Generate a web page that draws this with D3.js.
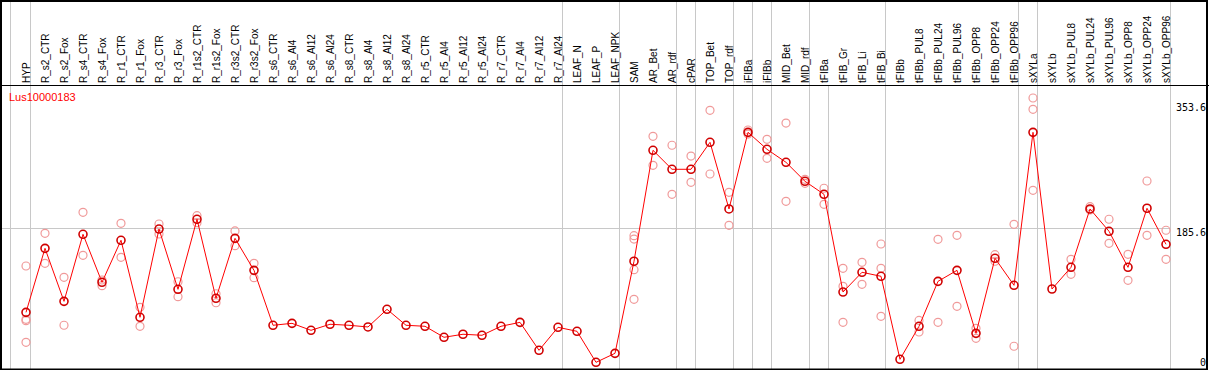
<!DOCTYPE html>
<html>
<head>
<meta charset="utf-8">
<script src="https://cdn.jsdelivr.net/npm/d3@7"></script>
<style>
  body { margin: 0; background: #fff; }
  svg { display: block; }
</style>
</head>
<body>
<svg id="chart" width="1209" height="370"></svg>
<script>
const gene = "Lus10000183";

const categories = [
  "HYP", "R_s2_CTR", "R_s2_Fox", "R_s4_CTR", "R_s4_Fox", "R_r1_CTR", "R_r1_Fox",
  "R_r3_CTR", "R_r3_Fox", "R_r1s2_CTR", "R_r1s2_Fox", "R_r3s2_CTR", "R_r3s2_Fox",
  "R_s6_CTR", "R_s6_Al4", "R_s6_Al12", "R_s6_Al24", "R_s8_CTR", "R_s8_Al4", "R_s8_Al12",
  "R_s8_Al24", "R_r5_CTR", "R_r5_Al4", "R_r5_Al12", "R_r5_Al24", "R_r7_CTR", "R_r7_Al4",
  "R_r7_Al12", "R_r7_Al24", "LEAF_N", "LEAF_P", "LEAF_NPK", "SAM", "AR_Bet", "AR_rdf",
  "cPAR", "TOP_Bet", "TOP_rdf", "iFIBa", "iFIBb", "MID_Bet", "MID_rdf", "tFIBa",
  "tFIB_Gr", "tFIB_Li", "tFIB_Bi", "tFIBb", "tFIBb_PUL8", "tFIBb_PUL24", "tFIBb_PUL96",
  "tFIBb_OPP8", "tFIBb_OPP24", "tFIBb_OPP96", "sXYLa", "sXYLb", "sXYLb_PUL8",
  "sXYLb_PUL24", "sXYLb_PUL96", "sXYLb_OPP8", "sXYLb_OPP24", "sXYLb_OPP96"
];

const means = [
  77.0, 159.6, 91.2, 177.7, 115.8, 170.0, 70.6,
  184.5, 106.7, 197.1, 95.1, 172.5, 131.2,
  60.3, 62.8, 53.8, 61.6, 60.3, 58.1, 80.9,
  60.3, 59.0, 44.8, 48.7, 47.4, 59.0, 64.1,
  28.0, 57.7, 52.5, 12.5, 24.1, 142.9, 286.1, 261.6,
  261.6, 296.4, 210.4, 309.3, 287.4, 270.6, 246.1, 229.3,
  103.2, 128.7, 123.5, 16.4, 59.0, 117.0, 131.2,
  49.9, 146.7, 111.9, 309.3, 107.1, 135.1,
  210.4, 181.6, 135.1, 211.3, 164.8
];

const replicates = [
  [136.8, 68.0, 66.2, 38.3], [179.0, 140.3], [122.2, 60.3], [206.1, 150.6], [118.7, 111.4], [191.9, 148.0], [83.5, 59.0],
  [191.0, 178.1], [116.5, 97.2], [201.7, 192.7], [101.0, 89.4], [182.0, 163.0], [140.3, 121.7],
  [], [], [], [], [], [], [],
  [], [], [], [], [], [], [],
  [], [], [], [], [], [175.9, 171.6, 132.0, 93.8], [304.2, 266.7], [292.6, 229.3],
  [278.7, 244.8], [337.7, 255.5], [231.9, 189.3], [312.3, 307.1], [300.3, 275.8], [321.3, 220.3], [248.7, 243.5], [237.1, 216.4],
  [133.8, 110.6, 64.1], [141.6, 113.2], [165.2, 133.8, 71.9], [], [66.5, 51.6], [171.2, 64.1], [176.4, 84.8],
  [56.4, 43.5], [151.4, 142.9], [190.6, 33.2], [353.6, 339.0, 234.5], [], [145.4, 126.1],
  [213.3, 209.1], [197.1, 166.1], [151.9, 118.3], [246.5, 176.4], [182.9, 145.4]
];

const yTicks = [353.6, 185.6, 0];
const refValue = 185.6;
// last sample of each tissue group (separator drawn after it)
const groupEnds = ["HYP", "R_r7_Al24", "LEAF_NPK", "AR_rdf", "cPAR", "TOP_rdf", "iFIBa",
  "iFIBb", "MID_rdf", "tFIB_Bi", "tFIBb_OPP96", "sXYLa", "sXYLb_OPP96"];
const plotOnlyEnds = ["tFIBa"];

const W = 1209, H = 370;
const headerBottom = 85, plotBottom = 369, plotRight = 1170;

const svg = d3.select("#chart");

const x = d3.scalePoint().domain(categories).range([26, 1166]);
const y = d3.scaleLinear().domain([0, 353.6]).range([372, 98]);

// grid
svg.append("line")
  .attr("x1", 1).attr("x2", plotRight)
  .attr("y1", Math.round(y(refValue)) + 0.5).attr("y2", Math.round(y(refValue)) + 0.5)
  .attr("stroke", "#c8c8c8");

svg.append("line")
  .attr("x1", x(categories[0]) - 15.5).attr("x2", x(categories[0]) - 15.5)
  .attr("y1", 0).attr("y2", plotBottom)
  .attr("stroke", "#c8c8c8");

svg.selectAll("line.sep")
  .data(groupEnds)
  .join("line")
  .attr("class", "sep")
  .attr("x1", d => x(d) + 4.5).attr("x2", d => x(d) + 4.5)
  .attr("y1", 0).attr("y2", plotBottom)
  .attr("stroke", "#c8c8c8");

svg.selectAll("line.sep2")
  .data(plotOnlyEnds)
  .join("line")
  .attr("class", "sep2")
  .attr("x1", d => x(d) + 4.5).attr("x2", d => x(d) + 4.5)
  .attr("y1", headerBottom).attr("y2", plotBottom)
  .attr("stroke", "#c8c8c8");

// sample labels
svg.selectAll("text.cat")
  .data(categories)
  .join("text")
  .attr("class", "cat")
  .attr("transform", d => `translate(${x(d) + 3.5},83) rotate(-90)`)
  .attr("font-family", "Liberation Sans, Arial, sans-serif")
  .attr("font-size", 10)
  .attr("fill", "#000")
  .text(d => d);

// replicate points
const reps = categories.flatMap((c, i) => replicates[i].map(v => ({ c, v })));
svg.selectAll("circle.rep")
  .data(reps)
  .join("circle")
  .attr("class", "rep")
  .attr("cx", d => x(d.c))
  .attr("cy", d => y(d.v))
  .attr("r", 4)
  .attr("fill", "none")
  .attr("stroke", "#f09a9a")
  .attr("stroke-width", 1.2);

// mean line
const line = d3.line().x((d, i) => x(categories[i])).y(d => y(d));
svg.append("path")
  .datum(means)
  .attr("d", line)
  .attr("fill", "none")
  .attr("stroke", "#ff0000")
  .attr("stroke-width", 1);

svg.selectAll("circle.mean")
  .data(means)
  .join("circle")
  .attr("class", "mean")
  .attr("cx", (d, i) => x(categories[i]))
  .attr("cy", d => y(d))
  .attr("r", 4)
  .attr("fill", "none")
  .attr("stroke", "#d00000")
  .attr("stroke-width", 1.6);

// gene name
svg.append("text")
  .attr("x", 9).attr("y", 101)
  .attr("font-family", "Liberation Sans, Arial, sans-serif")
  .attr("font-size", 11)
  .attr("fill", "#ff0000")
  .text(gene);

// value labels on right
svg.selectAll("text.tick")
  .data(yTicks)
  .join("text")
  .attr("class", "tick")
  .attr("x", 1206)
  .attr("y", d => Math.max(107, Math.min(362, y(d) + 4)))
  .attr("dy", "0.35em")
  .attr("text-anchor", "end")
  .attr("font-family", "DejaVu Sans Mono, monospace")
  .attr("font-size", 10)
  .attr("fill", "#000")
  .text(d => d);

// frame
svg.append("line").attr("x1", 0).attr("x2", W).attr("y1", headerBottom + 0.5).attr("y2", headerBottom + 0.5).attr("stroke", "#000");
svg.append("rect")
  .attr("x", 1).attr("y", 1).attr("width", 1206).attr("height", plotBottom - 0.5)
  .attr("fill", "none").attr("stroke", "#000").attr("stroke-width", 2);
</script>
</body>
</html>
